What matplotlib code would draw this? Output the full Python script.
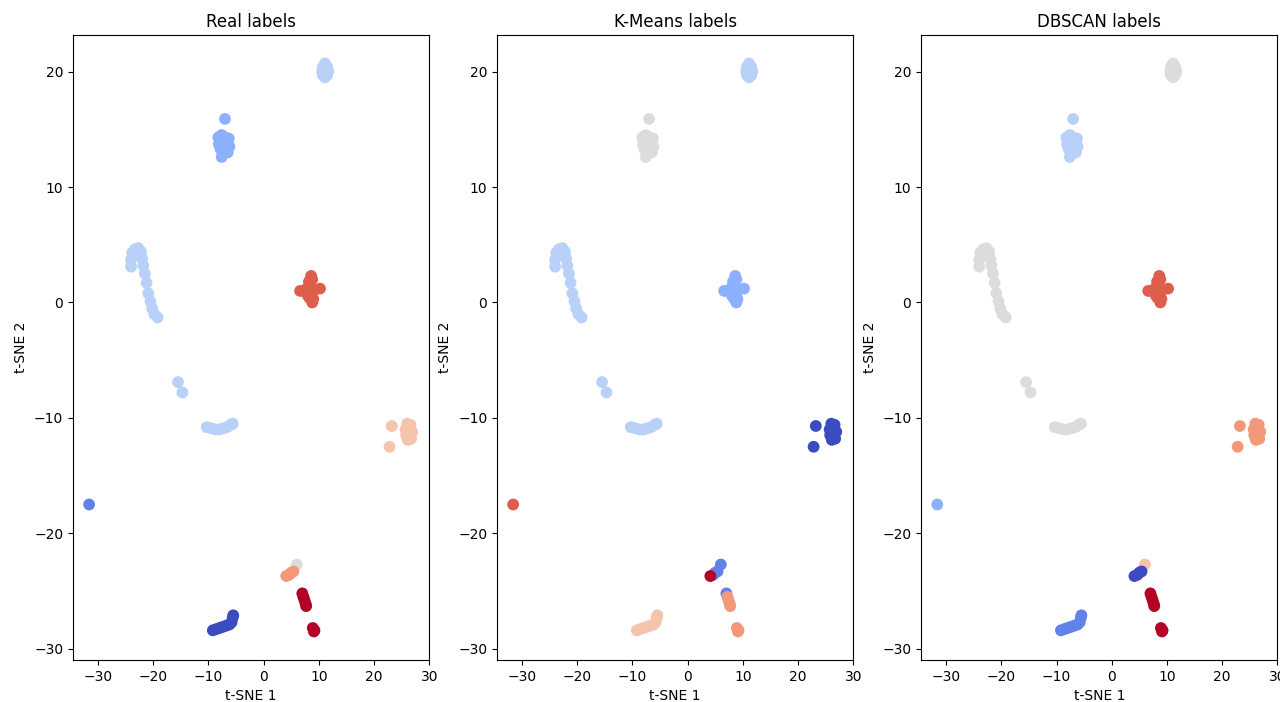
import matplotlib
matplotlib.use("Agg")
import matplotlib.pyplot as plt

# t-SNE coordinates
tsne_x = [
    # top blob
    11.1, 10.7, 11.5, 10.6, 11.7, 10.7, 11.5, 11.1, 11.1,
    # blob near y=14
    -8.2, -7.6, -7.0, -6.3, -8.1, -7.4, -6.6, -6.2, -7.8, -7.1, -6.5, -7.4, -7.6, -7.0, -7.6,
    # hook
    -24.0, -24.0, -23.8, -23.3, -22.7, -22.2, -22.0, -21.8, -21.5, -21.2, -20.9, -20.5, -20.2, -19.8, -19.2,
    # red blob near (8, 1)
    6.6, 7.2, 7.8, 8.2, 8.6, 8.8, 8.4, 8.6, 8.3, 8.8, 9.0, 9.2, 10.2, 8.0,
    # two points near (-15, -7)
    -15.5, -14.7,
    # arc near y=-11
    -10.3, -9.5, -8.7, -8.0, -7.3, -6.6, -6.0, -5.6,
    # right blob
    26.0, 26.6, 25.7, 26.3, 26.9, 25.8, 26.4, 26.1, 26.7, 23.2, 22.8,
    # lone point
    -31.6,
    # point near (6, -22.7)
    6.0,
    # short arc near (4.5, -23.5)
    5.4, 5.0, 4.6, 4.1,
    # short segment near (7.4, -25.7)
    7.0, 7.2, 7.4, 7.6, 7.7,
    # blob near (9, -28.3)
    8.9, 9.2, 9.1,
    # bottom arc
    -9.2, -8.6, -8.0, -7.4, -6.8, -6.2, -5.8, -5.6, -5.5,
]
tsne_y = [
    20.7, 20.4, 20.4, 20.0, 20.0, 19.7, 19.7, 19.5, 20.1,
    14.3, 14.5, 14.3, 14.2, 13.7, 13.9, 13.8, 13.5, 13.3, 13.2, 13.0, 12.9, 13.8, 15.9, 12.6,
    3.1, 3.7, 4.3, 4.6, 4.7, 4.4, 3.8, 3.2, 2.5, 1.7, 0.8, 0.1, -0.5, -1.0, -1.3,
    1.0, 1.0, 1.2, 1.8, 2.3, 2.0, 1.4, 0.8, 0.4, 0.0, 0.3, 1.1, 1.2, 0.6,
    -6.9, -7.8,
    -10.8, -10.9, -11.0, -11.0, -10.9, -10.8, -10.6, -10.5,
    -10.5, -10.6, -11.0, -11.0, -11.2, -11.5, -11.6, -11.9, -11.8, -10.7, -12.5,
    -17.5,
    -22.7,
    -23.3, -23.4, -23.6, -23.7,
    -25.2, -25.5, -25.8, -26.1, -26.3,
    -28.2, -28.4, -28.5,
    -28.4, -28.3, -28.2, -28.1, -28.0, -27.9, -27.7, -27.3, -27.1,
]

# cluster labels per point (same order as above)
real_labels = (
    [3] * 9 + [2] * 15 + [3] * 15 + [7] * 14 + [3] * 2 + [3] * 8
    + [5] * 11 + [1] + [4] + [6] * 4 + [8] * 5 + [8] * 3 + [0] * 9
)
kmeans_labels = (
    [3] * 9 + [4] * 15 + [3] * 15 + [2] * 14 + [3] * 2 + [3] * 8
    + [0] * 11 + [7] + [1] + [1, 1, 1, 8] + [1, 6, 6, 6, 6] + [6] * 3 + [5] * 9
)
dbscan_labels = (
    [4] * 9 + [3] * 15 + [4] * 15 + [7] * 14 + [4] * 2 + [4] * 8
    + [6] * 11 + [2] + [5] + [0] * 4 + [8] * 5 + [8] * 3 + [1] * 9
)

titles = ['Real labels', 'K-Means labels', 'DBSCAN labels']
label_sets = [real_labels, kmeans_labels, dbscan_labels]

fig, axes = plt.subplots(1, 3, figsize=(12.8, 7.02), dpi=100)
for ax, title, labels in zip(axes, titles, label_sets):
    ax.scatter(tsne_x, tsne_y, c=labels, cmap='coolwarm', s=72, linewidths=0)
    ax.set_title(title, fontsize=12)
    ax.set_xlabel('t-SNE 1')
    ax.set_ylabel('t-SNE 2')
    ax.set_xticks([-30, -20, -10, 0, 10, 20, 30])

fig.subplots_adjust(left=0.057, right=0.998, top=0.95, bottom=0.06, wspace=0.19)
fig.savefig('out.png')
